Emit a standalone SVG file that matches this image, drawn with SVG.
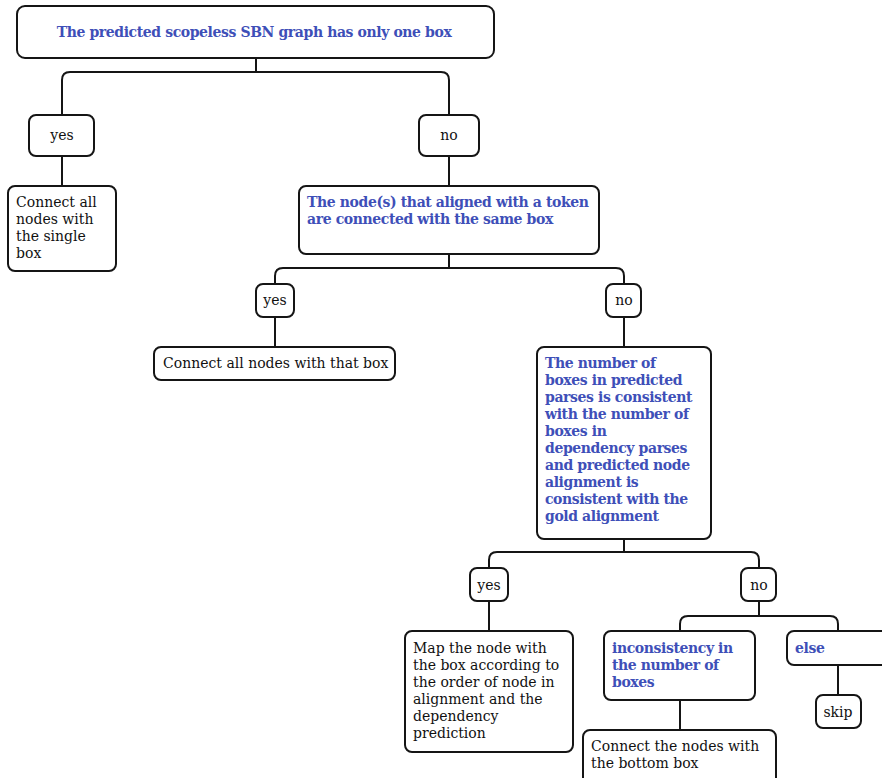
<svg xmlns="http://www.w3.org/2000/svg" width="882" height="778" viewBox="0 0 882 778">
  <style>
    .box { fill: #ffffff; stroke: #151515; stroke-width: 2; }
    .edge { fill: none; stroke: #151515; stroke-width: 2; }
    text { font-family: "DejaVu Serif", "Liberation Serif", serif; font-size: 14px; fill: #111111; }
    .q { font-weight: bold; fill: #3e4fb8; letter-spacing: -0.4px; }
    .c { text-anchor: middle; }
  </style>
  <rect width="882" height="778" fill="#ffffff"/>

  <g id="connectors">
    <path class="edge" d="M256,58 V72"/>
    <path class="edge" d="M62,115 V80 Q62,72 70,72 H441 Q449,72 449,80 V115"/>
    <path class="edge" d="M62,156 V186"/>
    <path class="edge" d="M449,156 V186"/>
    <path class="edge" d="M449,254 V268"/>
    <path class="edge" d="M275,284 V276 Q275,268 283,268 H616 Q624,268 624,276 V284"/>
    <path class="edge" d="M275,317 V347"/>
    <path class="edge" d="M624,317 V347"/>
    <path class="edge" d="M624,539 V552"/>
    <path class="edge" d="M489,568 V560 Q489,552 497,552 H751 Q759,552 759,560 V568"/>
    <path class="edge" d="M489,601 V631"/>
    <path class="edge" d="M759,601 V616"/>
    <path class="edge" d="M680,631 V624 Q680,616 688,616 H830 Q838,616 838,624 V631"/>
    <path class="edge" d="M680,700 V730"/>
    <path class="edge" d="M838,665 V695"/>
  </g>

  <g id="root">
    <rect class="box" x="17" y="6" width="477" height="52" rx="8"/>
    <text class="q c" x="254" y="37">The predicted scopeless SBN graph has only one box</text>
  </g>

  <g id="yes1">
    <rect class="box" x="29" y="115" width="65" height="41" rx="7"/>
    <text class="c" x="62" y="140">yes</text>
  </g>
  <g id="no1">
    <rect class="box" x="419" y="115" width="60" height="41" rx="7"/>
    <text class="c" x="449" y="140">no</text>
  </g>

  <g id="single-box">
    <rect class="box" x="8" y="186" width="108" height="85" rx="7"/>
    <text x="16" y="207">Connect all</text>
    <text x="16" y="224">nodes with</text>
    <text x="16" y="241">the single</text>
    <text x="16" y="258">box</text>
  </g>

  <g id="same-box">
    <rect class="box" x="299" y="186" width="300" height="68" rx="7"/>
    <text class="q" x="307" y="207">The node(s) that aligned with a token</text>
    <text class="q" x="307" y="224">are connected with the same box</text>
  </g>

  <g id="yes2">
    <rect class="box" x="256" y="284" width="38" height="33" rx="7"/>
    <text class="c" x="275" y="305">yes</text>
  </g>
  <g id="no2">
    <rect class="box" x="606" y="284" width="35" height="33" rx="7"/>
    <text class="c" x="624" y="305">no</text>
  </g>

  <g id="that-box">
    <rect class="box" x="154" y="347" width="241" height="33" rx="7"/>
    <text x="163" y="368">Connect all nodes with that box</text>
  </g>

  <g id="consistency">
    <rect class="box" x="537" y="347" width="174" height="192" rx="7"/>
    <text class="q" x="545" y="368">The number of</text>
    <text class="q" x="545" y="385">boxes in predicted</text>
    <text class="q" x="545" y="402">parses is consistent</text>
    <text class="q" x="545" y="419">with the number of</text>
    <text class="q" x="545" y="436">boxes in</text>
    <text class="q" x="545" y="453">dependency parses</text>
    <text class="q" x="545" y="470">and predicted node</text>
    <text class="q" x="545" y="487">alignment is</text>
    <text class="q" x="545" y="504">consistent with the</text>
    <text class="q" x="545" y="521">gold alignment</text>
  </g>

  <g id="yes3">
    <rect class="box" x="470" y="568" width="38" height="33" rx="7"/>
    <text class="c" x="489" y="590">yes</text>
  </g>
  <g id="no3">
    <rect class="box" x="741" y="568" width="35" height="33" rx="7"/>
    <text class="c" x="759" y="590">no</text>
  </g>

  <g id="map-node">
    <rect class="box" x="405" y="631" width="168" height="121" rx="7"/>
    <text x="413" y="653">Map the node with</text>
    <text x="413" y="670">the box according to</text>
    <text x="413" y="687">the order of node in</text>
    <text x="413" y="704">alignment and the</text>
    <text x="413" y="721">dependency</text>
    <text x="413" y="738">prediction</text>
  </g>

  <g id="inconsistency">
    <rect class="box" x="604" y="631" width="151" height="69" rx="7"/>
    <text class="q" x="612" y="653">inconsistency in</text>
    <text class="q" x="612" y="670">the number of</text>
    <text class="q" x="612" y="687">boxes</text>
  </g>

  <g id="else">
    <rect class="box" x="787" y="631" width="110" height="34" rx="7"/>
    <text class="q" x="795" y="653">else</text>
  </g>

  <g id="skip">
    <rect class="box" x="816" y="695" width="45" height="33" rx="7"/>
    <text class="c" x="838" y="717">skip</text>
  </g>

  <g id="bottom-box">
    <rect class="box" x="583" y="730" width="193" height="60" rx="7"/>
    <text x="591" y="751">Connect the nodes with</text>
    <text x="591" y="768">the bottom box</text>
  </g>
</svg>
